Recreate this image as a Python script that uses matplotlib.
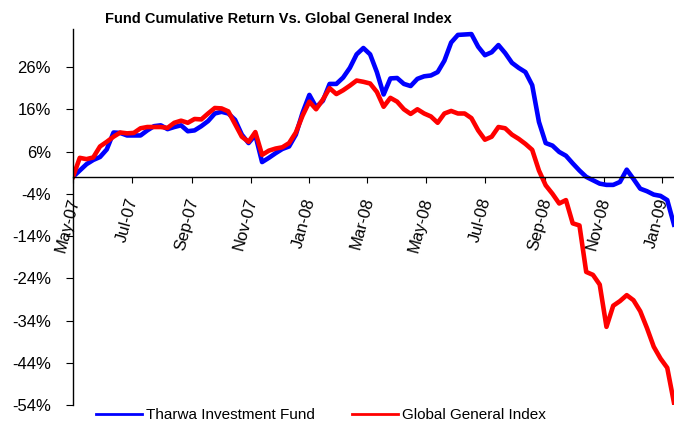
import pandas as pd
import matplotlib
matplotlib.use("Agg")
from matplotlib import pyplot as plt
import matplotlib.dates as mdates
from matplotlib.ticker import FuncFormatter
from matplotlib.transforms import ScaledTranslation

plt.rcParams["font.family"] = ["Liberation Sans", "DejaVu Sans"]

# weekly cumulative returns (%)
dates = pd.date_range("2007-05-01", periods=90, freq="7D")

fund = [
    0, 1.5, 3.0, 4.0, 4.7, 6.5, 10.5, 10.4, 9.8, 9.8,
    9.8, 11.0, 12.0, 12.2, 11.3, 11.8, 12.2, 10.8, 11.0, 12.0,
    13.2, 15.0, 15.4, 15.0, 13.5, 10.0, 8.0, 9.9, 3.5, 4.5,
    5.6, 6.6, 7.2, 10.0, 15.2, 19.4, 16.5, 18.0, 22.0, 22.0,
    23.5, 25.8, 29.0, 30.5, 29.0, 24.8, 19.5, 23.3, 23.4, 22.0,
    21.5, 23.2, 23.8, 24.0, 24.8, 27.5, 31.8, 33.6, 33.7, 33.8,
    30.8, 28.8, 29.5, 31.2, 29.3, 27.0, 25.8, 24.8, 21.7, 13.0,
    8.0, 7.4, 5.9, 5.0, 3.2, 1.5, 0.0, -0.8, -1.6, -1.9,
    -1.9, -1.2, 1.7, -0.5, -2.8, -3.4, -4.2, -4.5, -5.5, -11.3,
]

index = [
    0, 4.5, 4.2, 4.6, 7.2, 8.3, 9.5, 10.5, 10.3, 10.4,
    11.5, 11.8, 11.8, 11.8, 11.6, 12.8, 13.3, 12.8, 13.7, 13.6,
    15.0, 16.3, 16.2, 15.5, 12.5, 9.5, 8.3, 10.6, 5.2, 6.2,
    6.7, 7.0, 8.0, 10.5, 14.5, 17.8, 16.0, 18.3, 21.0, 19.6,
    20.5, 21.6, 22.8, 22.5, 22.1, 20.1, 16.6, 18.7, 17.8, 16.0,
    14.9, 16.0, 15.0, 14.3, 12.8, 15.0, 15.6, 15.0, 15.0, 13.9,
    11.0, 8.8, 9.5, 11.8, 11.5, 10.0, 9.0, 7.8, 6.4, 1.5,
    -2.0, -4.0, -6.3, -5.5, -11.0, -11.5, -22.5, -23.2, -25.5, -35.5,
    -30.5, -29.4, -28.0, -29.2, -31.8, -35.8, -40.2, -43.0, -45.2, -53.5,
]

y_ticks = [26, 16, 6, -4, -14, -24, -34, -44, -54]

fig = plt.figure(figsize=(6.74, 4.22), dpi=100)
ax = fig.add_axes([73 / 674, 17 / 422, 601 / 674, 376 / 422])

ax.plot(dates, fund, color="#0000ff", lw=3.3, solid_joinstyle="round",
        label="Tharwa Investment Fund")
ax.plot(dates, index, color="#ff0000", lw=3.3, solid_joinstyle="round",
        label="Global General Index")

ax.set_xlim(dates[0], dates[-1])
ax.set_ylim(-54, 35)
ax.set_yticks(y_ticks)
ax.yaxis.set_major_formatter(FuncFormatter(lambda v, p: f"{v:.0f}%"))

ax.set_xticks(pd.date_range("2007-05-01", "2009-01-01", freq="2MS"))
ax.xaxis.set_major_formatter(mdates.DateFormatter("%b-%y"))

ax.spines["top"].set_visible(False)
ax.spines["right"].set_visible(False)
ax.spines["bottom"].set_position(("data", 0))
ax.spines["left"].set_linewidth(1)
ax.spines["bottom"].set_linewidth(1)

ax.tick_params(axis="y", direction="out", length=5, labelsize=12, pad=11)
ax.tick_params(axis="x", direction="out", length=4, labelsize=12, pad=10)
shift = ScaledTranslation(-5 / 100, 0, fig.dpi_scale_trans)
for lbl in ax.get_xticklabels():
    lbl.set_rotation(75)
    lbl.set_transform(lbl.get_transform() + shift)

fig.text(278 / 674, 1 - 19 / 422, "Fund Cumulative Return Vs. Global General Index",
         ha="center", va="center", fontsize=10.5, fontweight="bold")

leg = fig.legend(*ax.get_legend_handles_labels(), loc="center", ncol=2,
                 bbox_to_anchor=(321 / 674, 7 / 422), frameon=False,
                 fontsize=11, handlelength=3, handletextpad=0.3,
                 columnspacing=2.4, borderpad=0)
for line in leg.get_lines():
    line.set_linewidth(2)

fig.savefig("out.png", dpi=100)
